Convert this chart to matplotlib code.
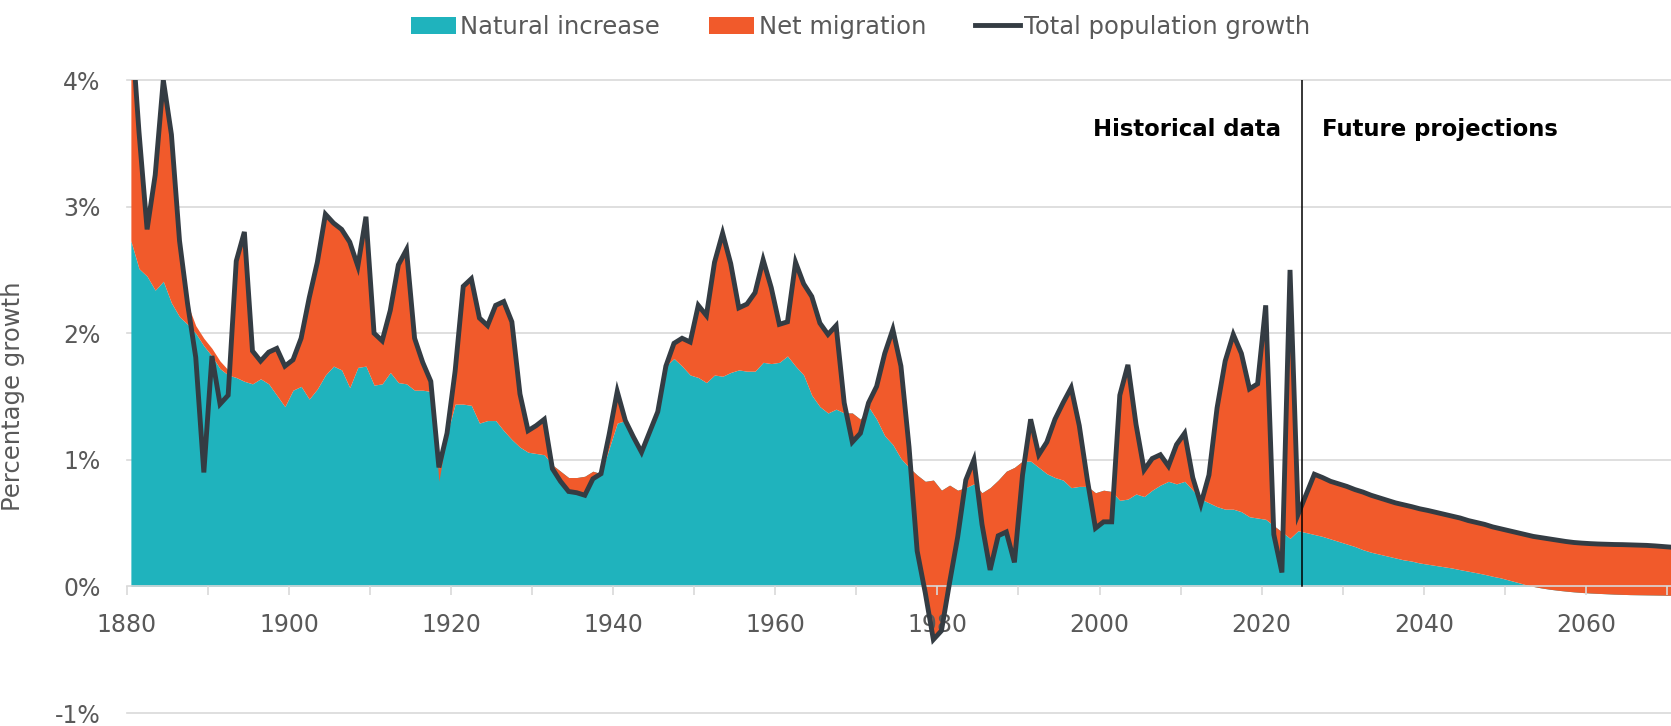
# Population growth chart: natural increase and net migration (stacked areas)
# with total population growth as a line, historical data and projections.

import numpy as np
import matplotlib

matplotlib.use("Agg")
import matplotlib.pyplot as plt
from matplotlib.patches import Patch
from matplotlib.lines import Line2D


# -----------------------------
# Data (percent growth per year)
# -----------------------------

# Historical years run 1880-2024, projections 2026-2070 (no 2025 value).
years_hist = list(range(1880, 2025))
years_proj = list(range(2026, 2071))

natural_hist = [
    2.73, 2.51, 2.45, 2.34, 2.41, 2.24, 2.13, 2.07, 2.00, 1.90,   # 1880s
    1.82, 1.72, 1.67, 1.65, 1.62, 1.60, 1.64, 1.60, 1.51, 1.42,   # 1890s
    1.55, 1.58, 1.48, 1.56, 1.67, 1.74, 1.71, 1.57, 1.73, 1.74,   # 1900s
    1.59, 1.60, 1.69, 1.61, 1.60, 1.55, 1.55, 1.54, 0.93, 1.20,   # 1910s
    1.44, 1.44, 1.43, 1.29, 1.31, 1.31, 1.23, 1.16, 1.10, 1.06,   # 1920s
    1.05, 1.04, 0.96, 0.91, 0.86, 0.86, 0.87, 0.91, 0.89, 1.09,   # 1930s
    1.29, 1.31, 1.18, 1.06, 1.22, 1.38, 1.74, 1.80, 1.74, 1.67,   # 1940s
    1.65, 1.61, 1.67, 1.66, 1.69, 1.71, 1.70, 1.70, 1.77, 1.76,   # 1950s
    1.77, 1.82, 1.74, 1.67, 1.51, 1.42, 1.37, 1.40, 1.37, 1.37,   # 1960s
    1.32, 1.42, 1.32, 1.19, 1.12, 1.01, 0.94, 0.88, 0.83, 0.84,   # 1970s
    0.76, 0.80, 0.76, 0.78, 0.81, 0.74, 0.78, 0.84, 0.91, 0.94,   # 1980s
    0.99, 0.99, 0.94, 0.89, 0.86, 0.84, 0.78, 0.79, 0.79, 0.74,   # 1990s
    0.76, 0.75, 0.68, 0.69, 0.73, 0.71, 0.76, 0.80, 0.83, 0.81,   # 2000s
    0.83, 0.76, 0.69, 0.66, 0.63, 0.61, 0.61, 0.59, 0.55, 0.54,   # 2010s
    0.53, 0.48, 0.43, 0.38, 0.44,                                 # 2020-2024
]

migration_hist = [
    1.77, 1.08, 0.37, 0.91, 1.59, 1.33, 0.60, 0.16, 0.06, 0.06,
    0.06, 0.06, 0.04, 0.92, 1.18, 0.26, 0.14, 0.25, 0.37, 0.32,
    0.24, 0.38, 0.80, 1.00, 1.27, 1.13, 1.11, 1.15, 0.80, 1.18,
    0.41, 0.34, 0.49, 0.93, 1.06, 0.41, 0.22, 0.08, -0.10, 0.01,
    0.26, 0.93, 1.00, 0.83, 0.75, 0.91, 1.02, 0.93, 0.42, 0.17,
    0.22, 0.28, -0.03, -0.08, -0.11, -0.12, -0.15, -0.06, 0.00, 0.11,
    0.25, 0.00, 0.00, 0.00, 0.00, 0.00, 0.00, 0.12, 0.22, 0.26,
    0.57, 0.53, 0.89, 1.13, 0.86, 0.49, 0.53, 0.62, 0.81, 0.60,
    0.30, 0.27, 0.82, 0.72, 0.78, 0.66, 0.62, 0.66, 0.08, -0.23,
    -0.11, 0.03, 0.26, 0.65, 0.91, 0.73, 0.16, -0.60, -0.88, -1.26,
    -1.11, -0.77, -0.37, 0.06, 0.19, -0.25, -0.65, -0.44, -0.48, -0.75,
    -0.11, 0.33, 0.10, 0.25, 0.46, 0.61, 0.79, 0.48, 0.05, -0.28,
    -0.25, -0.24, 0.83, 1.06, 0.55, 0.21, 0.25, 0.24, 0.12, 0.31,
    0.38, 0.10, -0.04, 0.22, 0.78, 1.17, 1.38, 1.25, 1.01, 1.06,
    1.69, -0.07, -0.32, 2.12, 0.13,
]

total_hist = [
    4.50, 3.59, 2.82, 3.25, 4.00, 3.57, 2.73, 2.23, 1.81, 0.90,
    1.82, 1.44, 1.51, 2.57, 2.80, 1.86, 1.78, 1.85, 1.88, 1.74,
    1.79, 1.96, 2.28, 2.56, 2.94, 2.87, 2.82, 2.72, 2.53, 2.92,
    2.00, 1.94, 2.18, 2.54, 2.66, 1.96, 1.77, 1.62, 0.94, 1.21,
    1.70, 2.37, 2.43, 2.12, 2.06, 2.22, 2.25, 2.09, 1.52, 1.23,
    1.27, 1.32, 0.93, 0.83, 0.75, 0.74, 0.72, 0.85, 0.89, 1.20,
    1.54, 1.31, 1.18, 1.06, 1.22, 1.38, 1.74, 1.92, 1.96, 1.93,
    2.22, 2.14, 2.56, 2.79, 2.55, 2.20, 2.23, 2.32, 2.58, 2.36,
    2.07, 2.09, 2.56, 2.39, 2.29, 2.08, 1.99, 2.06, 1.45, 1.14,
    1.21, 1.45, 1.58, 1.84, 2.03, 1.74, 1.10, 0.28, -0.05, -0.42,
    -0.35, 0.03, 0.39, 0.84, 1.00, 0.49, 0.13, 0.40, 0.43, 0.19,
    0.88, 1.32, 1.04, 1.14, 1.32, 1.45, 1.57, 1.27, 0.84, 0.46,
    0.51, 0.51, 1.51, 1.75, 1.28, 0.92, 1.01, 1.04, 0.95, 1.12,
    1.21, 0.86, 0.65, 0.88, 1.41, 1.78, 1.99, 1.84, 1.56, 1.60,
    2.22, 0.41, 0.11, 2.50, 0.57,
]

natural_proj = [
    0.41, 0.395, 0.375, 0.355, 0.335, 0.315, 0.29, 0.27, 0.255, 0.24,
    0.225, 0.21, 0.20, 0.185, 0.175, 0.165, 0.155, 0.145, 0.132, 0.12,
    0.108, 0.095, 0.08, 0.067, 0.05, 0.033, 0.015, 0.0, -0.012, -0.022,
    -0.03, -0.037, -0.043, -0.048, -0.052, -0.055, -0.058, -0.061, -0.063, -0.065,
    -0.066, -0.067, -0.068, -0.069, -0.07,
]

migration_proj = [
    0.48, 0.465, 0.455, 0.455, 0.455, 0.45, 0.455, 0.45, 0.445, 0.44,
    0.435, 0.435, 0.43, 0.428, 0.425, 0.42, 0.415, 0.41, 0.408, 0.40,
    0.397, 0.395, 0.39, 0.388, 0.39, 0.392, 0.395, 0.395, 0.397, 0.397,
    0.395, 0.392, 0.39, 0.39, 0.39, 0.39, 0.391, 0.392, 0.393, 0.393,
    0.392, 0.391, 0.388, 0.384, 0.38,
]

total_proj = [
    0.886, 0.86, 0.83, 0.81, 0.79, 0.765, 0.745, 0.72, 0.70, 0.68,
    0.66, 0.645, 0.63, 0.613, 0.60, 0.585, 0.57, 0.555, 0.54, 0.52,
    0.505, 0.49, 0.47, 0.455, 0.44, 0.425, 0.41, 0.395, 0.385, 0.375,
    0.365, 0.355, 0.347, 0.342, 0.338, 0.335, 0.333, 0.331, 0.33, 0.328,
    0.326, 0.324, 0.32, 0.315, 0.31,
]

y_ticks = [-1, 0, 1, 2, 3, 4]
y_tick_labels = ["-1%", "0%", "1%", "2%", "3%", "4%"]
x_label_years = list(range(1880, 2061, 20))
x_minor_years = list(range(1890, 2071, 20))

# Colours
TEAL = "#1FB3BD"
ORANGE = "#F15A2B"
LINE = "#343C43"
GREY_TEXT = "#595959"
GRID = "#D9D9D9"


# ----------------------------------------
# Combine history and projections.
# ----------------------------------------

# Each value is plotted at the middle of its year.
x = np.array(years_hist + years_proj) + 0.5
natural = np.array(natural_hist + natural_proj)
migration = np.array(migration_hist + migration_proj)
total = np.array(total_hist + total_proj)


# ----------------
# Plot the result.
# ----------------

plt.rcParams["font.family"] = "DejaVu Sans"

fig = plt.figure(figsize=(16.71, 7.26), dpi=100)
ax = fig.add_axes([0.0759, 0.0179, 0.9241, 0.8719])

# Horizontal gridlines sit behind the areas.
for y in [-1, 1, 2, 3, 4]:
    ax.axhline(y, color=GRID, lw=1.2, zorder=0, clip_on=False)

# Stacked areas: natural increase from zero, net migration on top of it.
ax.fill_between(x, 0, natural, color=TEAL, lw=0, zorder=1)
ax.fill_between(x, natural, natural + migration, color=ORANGE, lw=0, zorder=1)

# Total population growth line.
ax.plot(x, total, color=LINE, lw=3.5, zorder=3, solid_joinstyle="miter")

# Divider between historical data and projections.
ax.plot([2025, 2025], [0, 4], color="black", lw=1.1, zorder=4)
ax.text(2022.4, 3.61, "Historical data", ha="right", va="center",
        fontsize=16.4, fontweight="bold", color="black")
ax.text(2027.4, 3.61, "Future projections", ha="left", va="center",
        fontsize=16.4, fontweight="bold", color="black")

# Axes limits and styling.
ax.set_xlim(1880, 2070.5)
ax.set_ylim(-1, 4)
ax.set_axisbelow(False)

for side in ["top", "right", "left"]:
    ax.spines[side].set_visible(False)
ax.spines["bottom"].set_position(("data", 0))
ax.spines["bottom"].set_color(GRID)
ax.spines["bottom"].set_linewidth(1.2)
ax.spines["bottom"].set_zorder(2)

ax.set_xticks(x_label_years, labels=[str(y) for y in x_label_years])
ax.set_xticks(x_minor_years, minor=True)
ax.tick_params(axis="x", which="both", direction="out", length=6.5, width=1.2,
               color=GRID, labelcolor=GREY_TEXT, labelsize=17, pad=13)

ax.set_yticks(y_ticks, labels=y_tick_labels)
ax.tick_params(axis="y", length=0, labelcolor=GREY_TEXT, labelsize=17, pad=19)

ax.set_ylabel("Percentage growth", fontsize=17.5, color=GREY_TEXT)
ax.yaxis.set_label_coords(-0.066, 0.5)

# Legend across the top of the figure.
handles = [
    Patch(facecolor=TEAL, edgecolor="none"),
    Patch(facecolor=ORANGE, edgecolor="none"),
    Line2D([], [], color=LINE, lw=3.5),
]
labels = ["Natural increase", "Net migration", "Total population growth"]
fig.legend(handles, labels, loc="center", bbox_to_anchor=(0.515, 0.963),
           ncol=3, frameon=False, fontsize=17.5, labelcolor=GREY_TEXT,
           handlelength=1.85, handleheight=0.7, handletextpad=0.2,
           columnspacing=2.0)

fig.savefig("out.png", dpi=100)
print("Saved out.png")
